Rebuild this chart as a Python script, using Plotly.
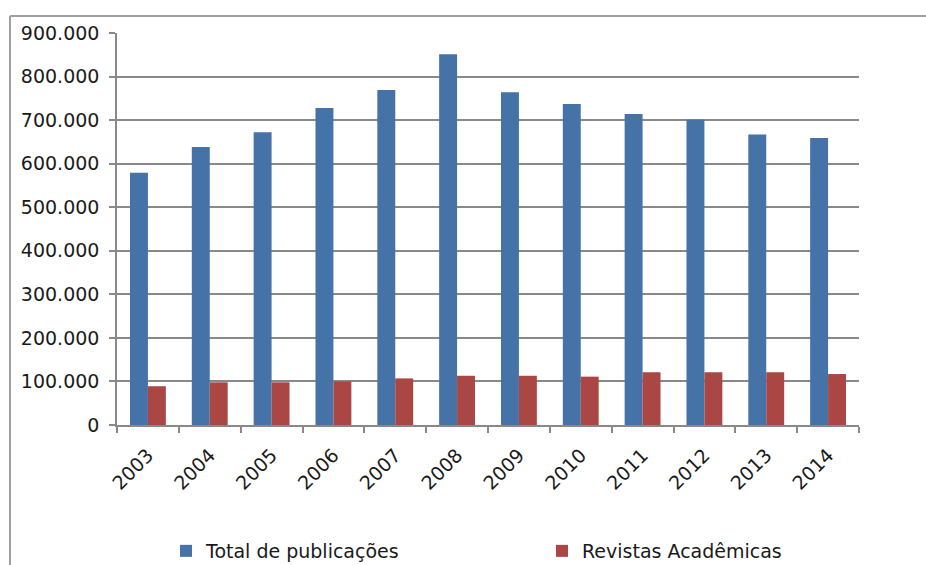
import plotly.graph_objects as go

anos = ["2003", "2004", "2005", "2006", "2007", "2008", "2009", "2010", "2011", "2012", "2013", "2014"]
total_publicacoes = [579000, 638000, 672000, 728000, 769000, 851000, 764000, 737000, 714000, 701000, 667000, 659000]
revistas_academicas = [89000, 98000, 98000, 100000, 107000, 113000, 113000, 111000, 121000, 121000, 121000, 117000]
y_ticks = [0, 100000, 200000, 300000, 400000, 500000, 600000, 700000, 800000, 900000]

W, H = 926, 565
L, R, T, B = 117, 859, 33, 425
pw, ph = R - L, B - T

def px_x(x):
    return (x - L) / pw

def px_y(y):
    return (B - y) / ph

FONT = "DejaVu Sans"
TXT = "#1a1a1a"
GRAY = "#898989"

fig = go.Figure()
fig.add_trace(go.Bar(x=anos, y=total_publicacoes, name="Total de publicações",
                     marker=dict(color="#4572A7", line=dict(width=0)), legend="legend"))
fig.add_trace(go.Bar(x=anos, y=revistas_academicas, name="Revistas Acadêmicas",
                     marker=dict(color="#AA4643", line=dict(width=0)), legend="legend2"))

fig.update_layout(
    width=W, height=H,
    margin=dict(l=L, r=W - R, t=T, b=H - B, pad=0, autoexpand=False),
    paper_bgcolor="white", plot_bgcolor="white",
    barmode="group", bargap=0.42, bargroupgap=0.0,
    separators=",.",
    font=dict(family=FONT, color=TXT),
    showlegend=True,
    legend=dict(orientation="h", x=px_x(166), xanchor="left", y=px_y(551), yanchor="middle",
                font=dict(family=FONT, size=19, color=TXT), bgcolor="rgba(0,0,0,0)"),
    legend2=dict(orientation="h", x=px_x(542), xanchor="left", y=px_y(551), yanchor="middle",
                 font=dict(family=FONT, size=19, color=TXT), bgcolor="rgba(0,0,0,0)"),
    xaxis=dict(
        type="category", tickangle=-45, tickson="boundaries",
        ticks="outside", ticklen=6, tickcolor=GRAY, tickwidth=1.5,
        showline=True, linecolor=GRAY, linewidth=1.5,
        showgrid=False, automargin=False,
        tickfont=dict(family=FONT, size=19, color=TXT),
        ticklabelstandoff=10,
    ),
    yaxis=dict(
        range=[0, 900000], tickvals=y_ticks, tickformat=",d",
        ticks="outside", ticklen=6, tickcolor=GRAY, tickwidth=1.5,
        showline=True, linecolor=GRAY, linewidth=1.5,
        showgrid=True, gridcolor=GRAY, gridwidth=1.5,
        zeroline=False, automargin=False,
        tickfont=dict(family=FONT, size=19, color=TXT),
        ticklabelstandoff=6,
    ),
    shapes=[
        dict(type="line", xref="paper", yref="paper", x0=px_x(10), x1=px_x(930),
             y0=px_y(16), y1=px_y(16), line=dict(color="#A0A0A0", width=2)),
        dict(type="line", xref="paper", yref="paper", x0=px_x(10), x1=px_x(10),
             y0=px_y(16), y1=px_y(570), line=dict(color="#A0A0A0", width=2)),
    ],
)

fig.write_html("out.html", config={"displayModeBar": False},
               post_script="document.body.style.margin='0';")
